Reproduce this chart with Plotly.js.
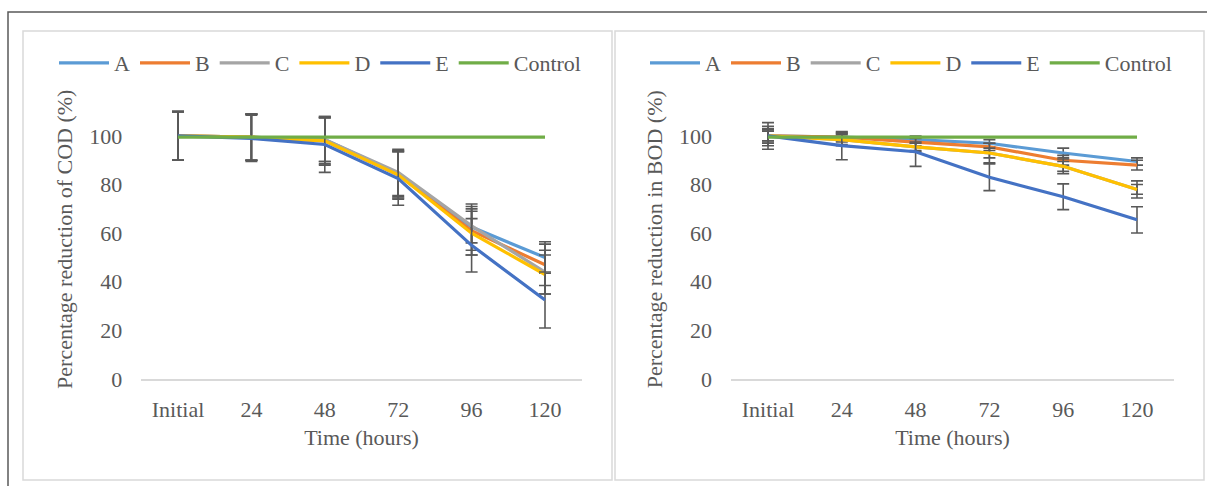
<!DOCTYPE html>
<html>
<head>
<meta charset="utf-8">
<script src="https://cdn.plot.ly/plotly-3.0.1.min.js"></script>
<style>
html,body{margin:0;padding:0;background:#fff;}
#chart{width:1207px;height:486px;}
</style>
</head>
<body>
<div id="chart"></div>
<script>
// ---------- data ----------
const categories = ['Initial', '24', '48', '72', '96', '120'];
const seriesNames = ['A', 'B', 'C', 'D', 'E', 'Control'];
const seriesColors = ['#5B9BD5', '#ED7D31', '#A5A5A5', '#FFC000', '#4472C4', '#70AD47'];

// COD (left panel)
const codA = [100, 99.5, 98.5, 84.5, 62.5, 50];
const codB = [100, 99.5, 98, 84, 61, 47];
const codC = [100, 99.5, 98.5, 85, 63, 44];
const codD = [100, 99.5, 98, 84, 60, 43];
const codE = [100, 99, 96.5, 82.5, 55, 32.5];
const codControl = [99.5, 99.5, 99.5, 99.5, 99.5, 99.5];
const codAErr = [10, 9.5, 9, 9.5, 9.5, 6.5];
const codBErr = [10, 9.5, 9.5, 9.5, 10, 8.5];
const codCErr = [10, 9.5, 9, 9.5, 7, 9];
const codDErr = [10, 9.5, 10, 10, 9, 8];
const codEErr = [10, 9.5, 11.5, 11, 11, 11.5];

// BOD (right panel)
const bodA = [100, 99.5, 98.5, 97, 93, 89.5];
const bodB = [100, 99.5, 97.5, 95.5, 90, 88];
const bodC = [100, 98.5, 95.5, 93, 87.5, 78];
const bodD = [100, 98.5, 95.5, 93, 87.5, 78];
const bodE = [100, 96, 93.5, 83, 75, 65.5];
const bodControl = [99.5, 99.5, 99.5, 99.5, 99.5, 99.5];
const bodAErr = [3, 2, 1.5, 1.5, 2, 1.5];
const bodBErr = [2, 1.5, 1.5, 1.5, 2, 2];
const bodCErr = [2.5, 2, 1.5, 2, 2, 2];
const bodDErr = [4, 2.5, 2, 4, 3, 3.5];
const bodEErr = [5.5, 5.8, 6, 5.5, 5.3, 5.4];

const yTickVals = [0, 20, 40, 60, 80, 100];
const xTitle = 'Time (hours)';
const yTitleLeft = 'Percentage reduction of COD (%)';
const yTitleRight = 'Percentage reduction in BOD (%)';

// ---------- build ----------
const W = 1207, H = 486;
const FONT = 'Liberation Serif, Times New Roman, serif';
const TXT = '#595959';

const codSeries = [codA, codB, codC, codD, codE, codControl];
const codErrs = [codAErr, codBErr, codCErr, codDErr, codEErr, null];
const bodSeries = [bodA, bodB, bodC, bodD, bodE, bodControl];
const bodErrs = [bodAErr, bodBErr, bodCErr, bodDErr, bodEErr, null];

const traces = [];
function addPanel(series, errs, xa, ya, legendId) {
  series.forEach((vals, i) => {
    const t = {
      type: 'scatter', mode: 'lines',
      x: categories, y: vals, name: seriesNames[i],
      xaxis: xa, yaxis: ya, legend: legendId,
      line: {color: seriesColors[i], width: 3.2},
      hoverinfo: 'x+y+name'
    };
    if (errs[i]) {
      t.error_y = {type: 'data', array: errs[i], visible: true,
                   color: TXT, thickness: 1.6, width: 6};
    }
    traces.push(t);
  });
}
addPanel(codSeries, codErrs, 'x', 'y', 'legend');
addPanel(bodSeries, bodErrs, 'x2', 'y2', 'legend2');

const px = v => v / W;
const py = v => 1 - v / H;

function xAxis(dom) {
  return {
    domain: dom, type: 'category', categoryorder: 'array', categoryarray: categories,
    range: [-0.5, 5.5], showgrid: false, zeroline: false,
    showline: true, linecolor: '#D9D9D9', linewidth: 1.5, ticks: '',
    ticklabelstandoff: 10,
    tickfont: {family: FONT, size: 22, color: TXT},
    title: {text: xTitle, font: {family: FONT, size: 22, color: TXT}, standoff: 8},
    fixedrange: true
  };
}
function yAxis(titleText, anchor) {
  return {
    domain: [py(379), py(99.5)], range: [0, 115], anchor: anchor,
    tickvals: yTickVals, showgrid: false, zeroline: false, showline: false, ticks: '',
    ticklabelstandoff: 18,
    tickfont: {family: FONT, size: 22, color: TXT},
    title: {text: titleText, font: {family: FONT, size: 22, color: TXT}, standoff: 10},
    fixedrange: true
  };
}

function legendCfg(xpx) {
  return {
    orientation: 'h', x: px(xpx), xanchor: 'left', y: py(63), yanchor: 'middle',
    font: {family: FONT, size: 22, color: TXT}, bgcolor: 'rgba(0,0,0,0)',
    itemwidth: 50, tracegroupgap: 0
  };
}

const layout = {
  width: W, height: H,
  margin: {l: 0, r: 0, t: 0, b: 0},
  paper_bgcolor: '#ffffff', plot_bgcolor: 'rgba(0,0,0,0)',
  showlegend: true,
  xaxis: Object.assign(xAxis([px(141.3), px(581.7)]), {anchor: 'y'}),
  yaxis: yAxis(yTitleLeft, 'x'),
  xaxis2: Object.assign(xAxis([px(731.1), px(1173.9)]), {anchor: 'y2'}),
  yaxis2: yAxis(yTitleRight, 'x2'),
  legend: legendCfg(54),
  legend2: legendCfg(645),
  shapes: [
    {type: 'rect', xref: 'paper', yref: 'paper', x0: px(8), x1: px(1215), y0: py(495), y1: py(12),
     line: {color: '#595959', width: 1.5}, fillcolor: 'rgba(0,0,0,0)', layer: 'below'},
    {type: 'rect', xref: 'paper', yref: 'paper', x0: px(23), x1: px(612), y0: py(480), y1: py(31),
     line: {color: '#D9D9D9', width: 1.5}, fillcolor: 'rgba(0,0,0,0)', layer: 'below'},
    {type: 'rect', xref: 'paper', yref: 'paper', x0: px(615), x1: px(1204), y0: py(480), y1: py(31),
     line: {color: '#D9D9D9', width: 1.5}, fillcolor: 'rgba(0,0,0,0)', layer: 'below'}
  ]
};

Plotly.newPlot('chart', traces, layout, {displayModeBar: false, staticPlot: true});
</script>
</body>
</html>
